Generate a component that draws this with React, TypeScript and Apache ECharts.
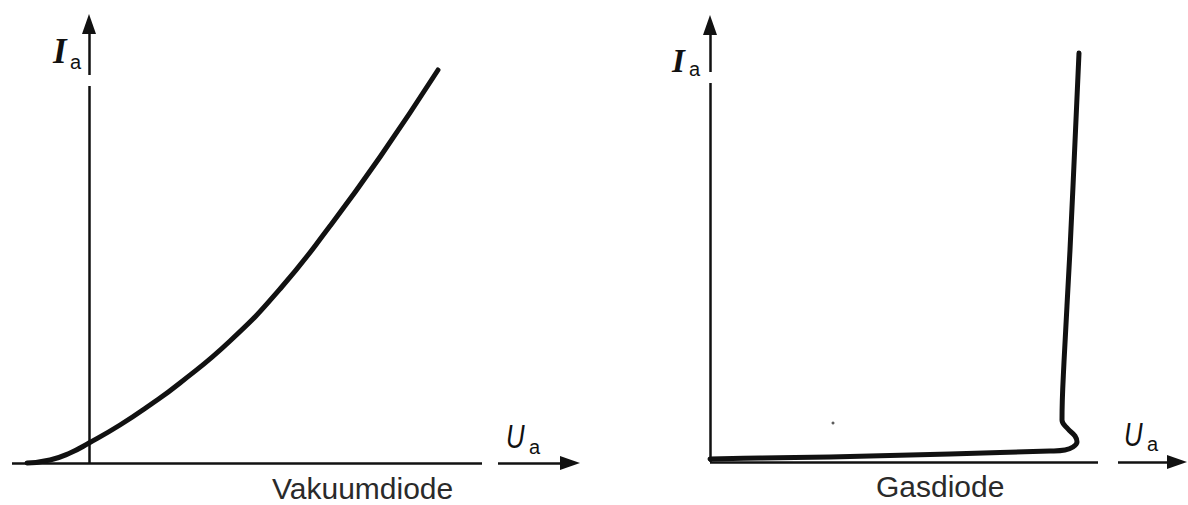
import React, { useEffect, useRef } from "react";
import * as echarts from "echarts";

// Vakuumdiode characteristic (U_a, I_a) in arbitrary units
const vakU = [-62, -39, -19, 0, 31, 61, 91, 141, 191, 241, 291, 349];
const vakI = [0, 3, 10, 20, 38, 58, 80, 122, 174, 237, 306, 393];

// Gasdiode characteristic (U_a, I_a) in arbitrary units
const gasU = [0, 50, 120, 240, 340, 355, 363, 367, 365, 358, 352, 354, 360, 369];
const gasI = [3, 4, 5, 8, 11, 12, 15, 20, 26, 33, 42, 100, 212, 409];

// axis extents (same units)
const vakRangeU = [-77, 491];
const vakRangeI = [0, 449];
const gasRangeU = [0, 477];
const gasRangeI = [0, 447];

// axis segments: [from, to]; arrow segments end in an arrow head at the tip
const vakAxisLines = [
  [[-77, 0], [393, 0]],
  [[0, 0], [0, 377]],
];
const vakArrowLines = [
  [[409, 0], [491, 0]],
  [[0, 388], [0, 449]],
];
const gasAxisLines = [
  [[0, 0], [388, 0]],
  [[0, 0], [0, 379]],
];
const gasArrowLines = [
  [[408, 0], [477, 0]],
  [[0, 390], [0, 447]],
];
const gasSpecks = [[123, 39]];

const captions = ["Vakuumdiode", "Gasdiode"];
const axisNameI = ["I", "a"];
const axisNameU = ["U", "a"];

const INK = "#111";
const ARROW_LEN = 20;
const ARROW_W = 14;

function pairs(us: number[], is: number[]) {
  return us.map((u, k) => [u, is[k]]);
}

function axisMarkData(plain: number[][][], arrows: number[][][]) {
  const out: any[] = [];
  plain.forEach(([a, b]) => {
    out.push([
      { coord: a, symbol: "none" },
      { coord: b, symbol: "none" },
    ]);
  });
  arrows.forEach(([a, b]) => {
    // move end back by half the arrow length so that the tip lands on b
    const dx = b[0] - a[0];
    const dy = b[1] - a[1];
    const len = Math.hypot(dx, dy);
    const end = [b[0] - (dx / len) * (ARROW_LEN / 2), b[1] - (dy / len) * (ARROW_LEN / 2)];
    out.push([
      { coord: a, symbol: "none" },
      { coord: end, symbol: "triangle", symbolSize: [ARROW_W, ARROW_LEN] },
    ]);
  });
  return out;
}

function markLineFor(plain: number[][][], arrows: number[][][]) {
  return {
    silent: true,
    animation: false,
    symbol: ["none", "none"],
    label: { show: false },
    emphasis: { disabled: true },
    lineStyle: { color: INK, width: 2.5, type: "solid" },
    itemStyle: { color: INK },
    data: axisMarkData(plain, arrows),
  };
}

function txt(x: number, y: number, text: string, font: string, fill = INK, scaleX = 1) {
  return {
    type: "text",
    x,
    y,
    scaleX,
    silent: true,
    style: {
      x: 0,
      y: 0,
      text,
      font,
      fill,
      align: "left",
      verticalAlign: "middle",
      textAlign: "left",
      textVerticalAlign: "middle",
    },
  };
}

export default function App() {
  const ref = useRef<HTMLDivElement>(null);

  useEffect(() => {
    if (!ref.current) return;
    const chart = echarts.init(ref.current, undefined, { renderer: "svg" });
    const hiddenAxis = (gridIndex: number, range: number[]) => ({
      type: "value",
      gridIndex,
      min: range[0],
      max: range[1],
      show: false,
      splitLine: { show: false },
    });
    const serifI = "italic bold 35px 'Liberation Serif', serif";
    const serifI2 = "italic bold 33px 'Liberation Serif', serif";
    const subFont = "20px 'Liberation Sans', sans-serif";
    const uFont = "italic 33px 'Liberation Sans', sans-serif";
    const capFont = "30px 'Liberation Sans', Arial, sans-serif";

    chart.setOption({
      animation: false,
      backgroundColor: "#ffffff",
      grid: [
        { left: 12, top: 14, width: 568, height: 449 },
        { left: 710, top: 15, width: 477, height: 447 },
      ],
      xAxis: [hiddenAxis(0, vakRangeU), hiddenAxis(1, gasRangeU)],
      yAxis: [hiddenAxis(0, vakRangeI), hiddenAxis(1, gasRangeI)],
      series: [
        {
          name: captions[0],
          type: "line",
          xAxisIndex: 0,
          yAxisIndex: 0,
          data: pairs(vakU, vakI),
          smooth: 0.5,
          showSymbol: false,
          symbol: "none",
          clip: false,
          lineStyle: { color: INK, width: 5, cap: "round" },
          emphasis: { disabled: true },
          markLine: markLineFor(vakAxisLines, vakArrowLines),
        },
        {
          name: captions[1],
          type: "line",
          xAxisIndex: 1,
          yAxisIndex: 1,
          data: pairs(gasU, gasI),
          smooth: 0.4,
          showSymbol: false,
          symbol: "none",
          clip: false,
          lineStyle: { color: INK, width: 5, cap: "round", join: "round" },
          emphasis: { disabled: true },
          markLine: markLineFor(gasAxisLines, gasArrowLines),
        },
        {
          type: "scatter",
          xAxisIndex: 1,
          yAxisIndex: 1,
          data: gasSpecks,
          symbolSize: 3,
          itemStyle: { color: "#333" },
          silent: true,
        },
      ],
      graphic: [
        txt(53, 51, axisNameI[0], serifI),
        txt(70, 61.5, axisNameI[1], subFont),
        txt(672, 61, axisNameI[0], serifI2),
        txt(689, 68.5, axisNameI[1], subFont),
        txt(506, 436.5, axisNameU[0], uFont, INK, 0.78),
        txt(529, 446.5, axisNameU[1], subFont),
        txt(1124, 434.5, axisNameU[0], uFont, INK, 0.78),
        txt(1147, 443.5, axisNameU[1], subFont),
        txt(272, 488, captions[0], capFont, "#2a2a2a"),
        txt(876, 486, captions[1], capFont, "#2a2a2a"),
      ],
    });
    return () => chart.dispose();
  }, []);

  return (
    <div
      ref={ref}
      style={{ position: "absolute", left: 0, top: 0, width: 1188, height: 505, background: "#fff" }}
    />
  );
}
